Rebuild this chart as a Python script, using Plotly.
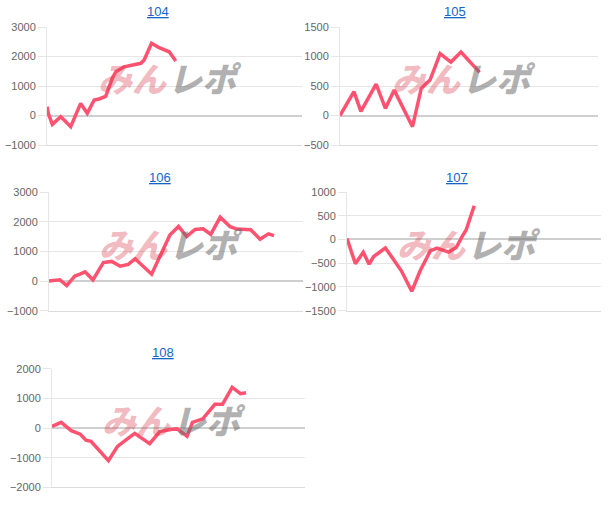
import plotly.graph_objects as go

# ---- data ----
titles = ["104", "105", "106", "107", "108"]

p104_x = [0, 0.6, 2.1, 5.4, 9.3, 13.2, 15.8, 18.5, 20.4, 23.0, 25.6, 27.0, 30.2, 33.5, 36.8, 38.1, 41.0, 44.0, 47.9, 50.5]
p104_y = [300, 50, -300, -40, -380, 410, 75, 525, 560, 650, 1260, 1485, 1650, 1710, 1770, 1880, 2450, 2300, 2160, 1850]

p105_x = [0, 5.4, 8.1, 14.0, 17.6, 21.0, 28.1, 31.5, 34.9, 38.8, 43.0, 46.9, 54.1]
p105_y = [0, 405, 70, 530, 120, 430, -190, 460, 600, 1050, 905, 1075, 730]

p106_x = [0, 2.4, 4.3, 7.0, 10.2, 12.2, 14.2, 17.3, 21.4, 24.7, 28.0, 31.2, 33.9, 40.4, 47.6, 51.0, 54.2,
          57.5, 60.7, 63.7, 67.4, 71.3, 73.9, 79.4, 83.1, 86.4, 88.6]
p106_y = [0, 30, 40, -150, 170, 230, 310, 40, 620, 660, 500, 560, 750, 230, 1550, 1840, 1500,
          1740, 1760, 1570, 2150, 1830, 1750, 1730, 1410, 1590, 1530]

p107_x = [0, 3.3, 6.4, 8.7, 10.5, 15.1, 17.0, 21.4, 25.5, 28.8, 32.8, 35.4, 40.0, 43.0, 45.3, 46.9, 50.1]
p107_y = [20, -510, -270, -520, -360, -180, -320, -660, -1090, -660, -240, -180, -265, -170, 60, 200, 710]

p108_x = [0, 3.6, 7.6, 11.2, 13.4, 15.4, 22.3, 25.9, 29.0, 32.7, 38.6, 42.6, 47.5, 49.5, 53.4, 55.5,
          59.6, 64.4, 67.4, 71.2, 74.5, 76.7]
p108_y = [50, 190, -90, -210, -410, -450, -1100, -620, -420, -180, -530, -120, -40, -30, -280, 190,
          310, 800, 800, 1370, 1160, 1190]

y_ranges = [[-1000, 3000], [-500, 1500], [-1000, 3000], [-1500, 1000], [-2000, 2000]]
y_dticks = [1000, 500, 1000, 500, 1000]

series_x = [p104_x, p105_x, p106_x, p107_x, p108_x]
series_y = [p104_y, p105_y, p106_y, p107_y, p108_y]

# ---- layout geometry (pixels in the 610x512 window) ----
W, H = 610, 512
plot_px = [  # left, right, top, bottom
    (47, 302, 27, 145),
    (340, 598, 27, 145),
    (49, 303, 192, 310.7),
    (347, 601, 192, 310.7),
    (52, 305, 368.7, 487.3),
]
title_px = [(158, 11), (455, 11), (160, 177), (457, 177), (163, 352.5)]


def fx(px):
    return px / W


def fy(py):
    return 1 - py / H


LINE = "rgb(255,82,112)"
GRID = "#e6e6e6"
TICKFONT = dict(family="Liberation Sans, Arial, sans-serif", size=11, color="#666666")

fig = go.Figure()
layout = dict(
    width=W, height=H, autosize=False,
    margin=dict(l=0, r=0, t=0, b=0, pad=0, autoexpand=False),
    paper_bgcolor="white", plot_bgcolor="white",
    showlegend=False,
    annotations=[],
)

for i in range(5):
    n = "" if i == 0 else str(i + 1)
    l, r, t, b = plot_px[i]
    fig.add_trace(go.Scatter(
        x=series_x[i], y=series_y[i], mode="lines",
        line=dict(color=LINE, width=3.5),
        xaxis="x" + n, yaxis="y" + n, hoverinfo="skip",
    ))
    layout["xaxis" + n] = dict(
        domain=[fx(l), fx(r)], range=[0, 100], anchor="y" + n, automargin=False,
        showgrid=False, zeroline=False, showticklabels=False,
        showline=True, linecolor="#dcdcdc", linewidth=1, fixedrange=True,
    )
    layout["yaxis" + n] = dict(
        domain=[fy(b), fy(t)], range=y_ranges[i], dtick=y_dticks[i], anchor="x" + n,
        automargin=False,
        showgrid=True, gridcolor=GRID, gridwidth=1,
        zeroline=True, zerolinecolor="#cfcfcf", zerolinewidth=1.5,
        showline=True, linecolor="#e6e6e6", linewidth=1,
        ticks="outside", ticklen=8, tickcolor=GRID, tickfont=TICKFONT,
        fixedrange=True,
    )
    tx, ty = title_px[i]
    layout["annotations"].append(dict(
        text="<u>" + titles[i] + "</u>", x=fx(tx), y=fy(ty), xref="paper", yref="paper",
        xanchor="center", yanchor="middle", showarrow=False,
        font=dict(family="Liberation Sans, Arial, sans-serif", size=13, color="#1366c8"),
    ))
    layout["annotations"].append(dict(
        text="みん", x=0.5, y=0.57, xref="x" + n + " domain", yref="y" + n + " domain",
        xanchor="right", yanchor="middle", showarrow=False, xshift=-6,
        font=dict(family="Noto Sans CJK JP", size=34, color="rgba(215,60,75,0.36)",
                  weight=900, style="italic"),
    ))
    layout["annotations"].append(dict(
        text="レポ", x=0.5, y=0.57, xref="x" + n + " domain", yref="y" + n + " domain",
        xanchor="left", yanchor="middle", showarrow=False, xshift=-9,
        font=dict(family="Noto Sans CJK JP", size=34, color="rgba(110,110,110,0.55)",
                  weight=900, style="italic"),
    ))

fig.update_layout(**layout)
fig.write_html("out.html", config={"displayModeBar": False},
               post_script="document.body.style.margin='0';")
